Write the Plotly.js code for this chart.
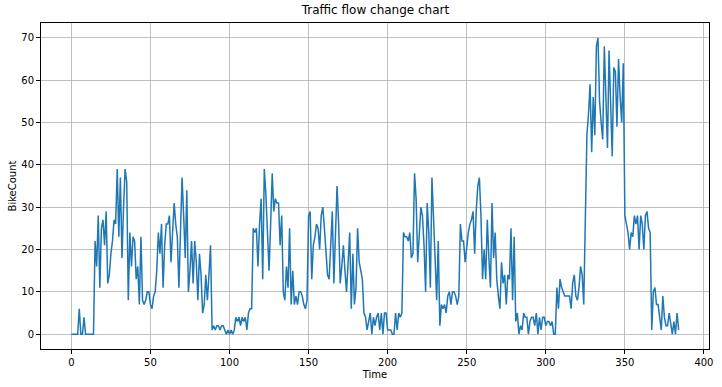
<!DOCTYPE html>
<html>
<head>
<meta charset="utf-8">
<script src="https://cdn.plot.ly/plotly-3.0.1.min.js"></script>
<style>html,body{margin:0;padding:0;background:#fff;}#chart{width:722px;height:387px;}</style>
</head>
<body>
<div id="chart"></div>
<script>
const bikeCount = [
  0,0,0,0,0,6,0,0,4,0,
  0,0,0,0,0,22,16,28,11,25,
  27,21,29,12,14,19,22,27,26,39,
  23,37,18,30,39,36,8,24,16,23,
  22,13,16,7,23,8,7,8,10,10,
  7,6,9,10,15,24,19,26,11,21,
  26,26,28,17,23,31,26,23,11,24,
  37,28,18,34,10,15,22,12,22,17,
  8,19,14,5,7,14,8,14,21,1,
  2,1,2,2,1,2,2,1,0,1,
  0,1,0,1,4,3,4,2,4,3,
  4,1,5,6,6,25,24,25,16,26,
  32,13,39,33,24,15,26,38,29,32,
  31,31,21,28,10,8,16,11,25,7,
  15,7,9,7,10,10,9,7,6,8,
  28,29,13,21,23,26,25,20,28,30,
  25,19,14,13,20,29,12,22,35,26,
  12,16,21,15,10,17,24,6,19,7,
  11,25,17,15,13,5,4,1,3,5,
  0,4,2,4,5,1,5,0,5,5,
  1,1,1,0,0,5,1,5,4,5,
  24,23,23,22,24,18,19,38,32,17,
  23,30,28,21,10,31,24,11,37,29,
  18,8,22,2,7,6,7,5,9,10,
  7,10,10,9,7,9,26,22,22,17,
  21,24,26,27,29,19,29,35,37,28,
  13,20,13,27,18,11,31,18,24,13,
  9,6,17,12,14,7,14,13,25,8,
  23,3,5,0,2,1,5,4,4,0,
  3,4,4,2,5,0,4,1,4,4,
  2,3,3,2,3,0,0,11,6,13,
  11,10,9,9,9,9,6,12,14,9,
  8,11,16,14,7,27,47,52,59,43,
  56,47,68,70,55,50,46,68,55,44,
  67,55,42,63,62,49,65,56,50,64,
  28,26,24,20,24,23,28,26,28,20,
  28,26,20,28,29,25,24,1,10,11,
  7,7,4,1,9,4,2,2,5,2,
  0,3,0,5,1
];
const timeIdx = bikeCount.map((_, i) => i);
const xTicks = [0, 50, 100, 150, 200, 250, 300, 350, 400];
const yTicks = [0, 10, 20, 30, 40, 50, 60, 70];

const axisCommon = {
  showline: true, linecolor: '#000', linewidth: 1, mirror: true,
  showgrid: true, gridcolor: '#b0b0b0', gridwidth: 0.8,
  zeroline: false, ticks: 'outside', ticklen: 4, tickwidth: 1, tickcolor: '#000',
  tickfont: {family: 'DejaVu Sans', size: 10, color: '#000'}
};

Plotly.newPlot('chart', [{
  x: timeIdx, y: bikeCount, type: 'scatter', mode: 'lines',
  line: {color: '#1f77b4', width: 1.5}
}], {
  width: 722, height: 387,
  margin: {l: 41, r: 13, t: 23, b: 38},
  paper_bgcolor: '#fff', plot_bgcolor: '#fff',
  showlegend: false,
  title: {text: 'Traffic flow change chart', x: 0.52, xanchor: 'center', y: 0.985, yanchor: 'top',
          font: {family: 'DejaVu Sans', size: 12, color: '#000'}},
  xaxis: Object.assign({}, axisCommon, {
    range: [-19.2, 403.2], tickvals: xTicks,
    title: {text: 'Time', font: {family: 'DejaVu Sans', size: 10, color: '#000'}, standoff: 3}
  }),
  yaxis: Object.assign({}, axisCommon, {
    range: [-3.5, 73.5], tickvals: yTicks,
    title: {text: 'BikeCount', font: {family: 'DejaVu Sans', size: 10, color: '#000'}, standoff: 2}
  })
}, {displayModeBar: false, staticPlot: true});
</script>
</body>
</html>
